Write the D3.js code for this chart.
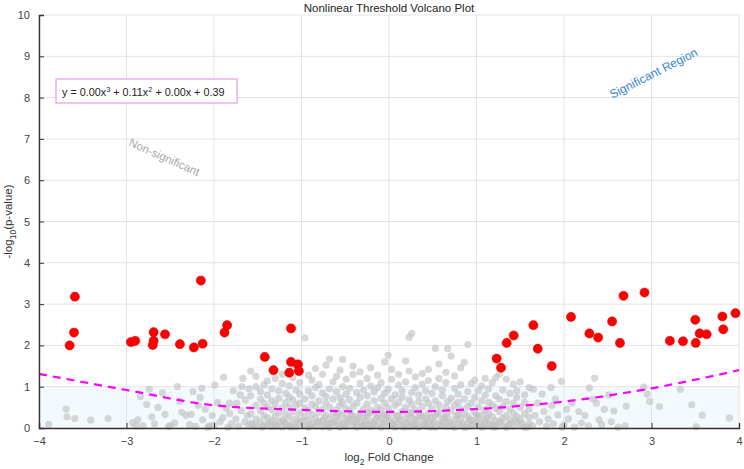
<!DOCTYPE html>
<html>
<head>
<meta charset="utf-8">
<script src="https://cdn.jsdelivr.net/npm/d3@7"></script>
<style>
  body { margin: 0; background: #fff; }
  svg { display: block; font-family: "Liberation Sans", Arial, sans-serif; }
</style>
</head>
<body>
<svg id="chart" width="744" height="469"></svg>
<script>
// Significant genes (red)
const sigPoints = [
  [-3.59, 3.18], [-3.60, 2.31], [-3.65, 2.00], [-2.95, 2.08], [-2.90, 2.11],
  [-2.69, 2.32], [-2.69, 2.11], [-2.70, 2.01], [-2.56, 2.27], [-2.39, 2.03],
  [-2.23, 1.95], [-2.15, 3.57], [-2.13, 2.04], [-1.88, 2.31], [-1.85, 2.49],
  [-1.12, 2.41], [-1.42, 1.72], [-1.32, 1.40], [-1.12, 1.60], [-1.04, 1.54],
  [-1.14, 1.34], [-1.03, 1.38],
  [1.23, 1.68], [1.28, 1.46], [1.345, 2.06], [1.425, 2.24], [1.65, 2.49],
  [1.70, 1.92], [1.86, 1.50], [2.08, 2.69], [2.29, 2.29], [2.39, 2.19],
  [2.55, 2.58], [2.64, 2.06], [2.68, 3.20], [2.92, 3.28], [3.21, 2.11],
  [3.36, 2.10], [3.50, 2.62], [3.505, 2.06], [3.55, 2.29], [3.63, 2.27],
  [3.81, 2.70], [3.82, 2.39], [3.96, 2.78]
];

// Non-significant genes (gray)
const grayLeft = [
  [-3.89, 0.09], [-3.69, 0.46], [-3.68, 0.27], [-3.59, 0.23], [-3.41, 0.19], [-3.21, 0.23],
  [-2.93, 0.13], [-2.89, 0.05], [-2.87, 0.2], [-2.84, 0.76], [-2.81, 0.05], [-2.77, 0.57],
  [-2.74, 0.94], [-2.71, 0.27], [-2.68, 0.1], [-2.64, 0.5], [-2.59, 0.85], [-2.56, 0.33],
  [-2.52, 0.04], [-2.5, 0.05], [-2.45, 0.12], [-2.42, 1.0], [-2.39, 0.65], [-2.37, 0.38],
  [-2.32, 0.31], [-2.28, 0.08], [-2.26, 0.33], [-2.24, 0.88], [-2.21, 0.04], [-2.18, 0.55],
  [-2.16, 0.74], [-2.14, 0.96], [-2.13, 0.2], [-2.1, 0.45], [-2.07, 0.02], [-2.05, 0.05],
  [-2.02, 0.3], [-2.0, 0.07], [-1.99, 1.04], [-1.96, 0.62], [-1.93, 0.15], [-1.9, 0.25],
  [-1.89, 1.23], [-1.86, 0.48], [-1.84, 0.02], [-1.82, 0.6], [-1.82, 0.35], [-1.8, 0.1],
  [-1.78, 0.9], [-1.75, 0.22], [-1.74, 0.6], [-1.72, 0.04], [-1.7, 0.8], [-1.69, 0.42],
  [-1.68, 1.0], [-1.67, 1.2], [-1.65, 0.15], [-1.64, 0.68], [-1.62, 0.3], [-1.6, 0.95],
  [-1.6, 0.05]
];

// dense middle, listed as [x, y1, y2, ...]
const grayCenterCols = [
  [-1.58, 0.12, 0.35, 0.78, 1.38], [-1.52, 0.04, 0.22, 0.55, 1.0, 1.25], [-1.47, 0.15, 0.42, 0.7, 0.88],
  [-1.43, 0.06, 0.3, 0.6, 1.05], [-1.39, 0.1, 0.25, 0.5, 1.14, 0.8], [-1.34, 0.03, 0.18, 0.44, 0.66, 0.95],
  [-1.3, 0.08, 0.28, 0.58, 1.2], [-1.26, 0.14, 0.37, 0.72, 0.9], [-1.22, 0.02, 0.2, 0.48, 1.08, 1.3],
  [-1.18, 0.1, 0.33, 0.62, 0.84], [-1.14, 0.05, 0.26, 0.5, 0.75, 1.02], [-1.1, 0.12, 0.4, 0.68, 1.22],
  [-1.06, 0.03, 0.22, 0.55, 0.92, 1.45], [-1.02, 0.16, 0.36, 0.6, 0.82, 1.1], [-0.96, 0.07, 0.28, 0.48, 0.7, 2.18],
  [-0.92, 0.02, 0.2, 0.42, 0.9, 1.28], [-0.88, 0.11, 0.33, 0.58, 0.78, 1.16], [-0.84, 0.05, 0.24, 0.52, 1.44, 0.98],
  [-0.8, 0.14, 0.38, 0.66, 1.05], [-0.76, 0.03, 0.18, 0.45, 0.85, 1.3], [-0.72, 0.09, 0.3, 0.6, 0.76, 1.52],
  [-0.68, 0.01, 0.22, 0.5, 0.95, 1.67], [-0.64, 0.13, 0.36, 0.7, 1.12], [-0.6, 0.06, 0.27, 0.44, 0.88, 1.25],
  [-0.56, 0.02, 0.18, 0.55, 0.73, 1.4], [-0.53, 0.1, 0.34, 0.62, 1.0, 1.66], [-0.49, 0.04, 0.24, 0.47, 0.82, 1.18],
  [-0.45, 0.15, 0.4, 0.68, 0.96], [-0.41, 0.07, 0.28, 0.52, 1.3, 1.5], [-0.37, 0.02, 0.2, 0.6, 0.86],
  [-0.33, 0.12, 0.35, 0.74, 1.08, 1.36], [-0.29, 0.05, 0.25, 0.46, 0.92], [-0.25, 0.09, 0.3, 0.58, 0.78, 1.2],
  [-0.21, 0.03, 0.17, 0.43, 1.02, 1.46], [-0.17, 0.11, 0.38, 0.66, 0.88], [-0.13, 0.06, 0.26, 0.5, 0.98, 1.28],
  [-0.09, 0.01, 0.2, 0.44, 0.72, 1.1], [-0.05, 0.14, 0.32, 0.6, 1.6, 0.84], [-0.01, 0.04, 0.23, 0.48, 0.94, 1.76],
  [0.03, 0.1, 0.36, 0.7, 1.18, 1.42], [0.07, 0.02, 0.19, 0.55, 0.8], [0.11, 0.13, 0.29, 0.62, 1.04, 1.3],
  [0.15, 0.05, 0.4, 0.74, 0.9], [0.19, 0.08, 0.24, 0.5, 1.62, 1.12], [0.23, 0.03, 0.33, 0.68, 1.38, 2.2],
  [0.26, 0.12, 0.27, 0.58, 0.86, 2.29], [0.3, 0.06, 0.21, 0.45, 0.98, 1.24], [0.34, 0.01, 0.37, 0.64, 0.8],
  [0.38, 0.1, 0.28, 0.52, 1.06, 1.32], [0.42, 0.04, 0.18, 0.7, 0.9], [0.45, 0.14, 0.35, 0.6, 1.42, 1.15],
  [0.49, 0.07, 0.25, 0.48, 0.84], [0.53, 0.02, 0.3, 0.66, 1.0, 1.93], [0.57, 0.11, 0.4, 0.56, 1.2, 1.55],
  [0.61, 0.05, 0.22, 0.78, 0.92], [0.65, 0.13, 0.34, 0.5, 1.1, 1.35], [0.67, 0.03, 0.26, 0.64, 1.92],
  [0.71, 0.09, 0.42, 0.72, 1.74], [0.75, 0.01, 0.2, 0.55, 0.96, 1.26], [0.79, 0.12, 0.31, 0.62, 0.82],
  [0.82, 0.06, 0.24, 0.46, 1.46, 1.05], [0.86, 0.02, 0.36, 0.7, 1.59], [0.9, 0.1, 0.28, 0.52, 0.88, 2.02],
  [0.94, 0.04, 0.18, 0.6, 1.08], [0.98, 0.14, 0.38, 0.74, 1.16], [1.02, 0.07, 0.25, 0.5, 0.9],
  [1.06, 0.02, 0.32, 0.66, 1.02], [1.1, 0.11, 0.2, 0.44, 0.8, 1.2], [1.14, 0.05, 0.35, 0.62, 0.95],
  [1.18, 0.09, 0.27, 0.56, 1.1], [1.22, 0.03, 0.18, 0.48, 0.78, 1.22], [1.26, 0.12, 0.4, 0.7, 1.3],
  [1.3, 0.06, 0.24, 0.52, 0.92], [1.34, 0.01, 0.3, 0.64, 1.18], [1.38, 0.1, 0.2, 0.46, 0.84],
  [1.42, 0.04, 0.36, 0.6, 1.06], [1.46, 0.13, 0.28, 0.74, 0.9], [1.5, 0.07, 0.22, 0.5, 1.12],
  [1.55, 0.02, 0.34, 0.62, 0.8], [1.6, 0.1, 0.26, 0.45, 0.98]
];

// extra low-lying points that fill the bottom of the cloud
const grayBase = [
  [-1.55, 0.08], [-1.45, 0.02], [-1.36, 0.12], [-1.28, 0.04], [-1.2, 0.15], [-1.12, 0.02],
  [-1.04, 0.1], [-0.98, 0.18], [-0.9, 0.06], [-0.82, 0.14], [-0.74, 0.24], [-0.7, 0.08],
  [-0.62, 0.16], [-0.58, 0.35], [-0.51, 0.05], [-0.47, 0.2], [-0.43, 0.32], [-0.39, 0.12],
  [-0.35, 0.26], [-0.31, 0.04], [-0.27, 0.17], [-0.23, 0.36], [-0.19, 0.08], [-0.15, 0.22],
  [-0.11, 0.34], [-0.07, 0.1], [-0.03, 0.28], [0.01, 0.16], [0.05, 0.06], [0.09, 0.3],
  [0.13, 0.2], [0.17, 0.02], [0.21, 0.14], [0.25, 0.38], [0.28, 0.04], [0.32, 0.18],
  [0.36, 0.3], [0.4, 0.08], [0.44, 0.24], [0.47, 0.02], [0.51, 0.15], [0.55, 0.34],
  [0.59, 0.06], [0.63, 0.25], [0.69, 0.14], [0.73, 0.04], [0.77, 0.3], [0.84, 0.12],
  [0.88, 0.02], [0.92, 0.22], [0.96, 0.08], [1.0, 0.3], [1.04, 0.14], [1.08, 0.04],
  [1.12, 0.24], [1.16, 0.1], [1.2, 0.02], [1.28, 0.16], [1.36, 0.06], [1.44, 0.2],
  [1.52, 0.12], [1.58, 0.02]
];

const grayRight = [
  [1.64, 0.05], [1.65, 0.94], [1.67, 0.3], [1.7, 0.6], [1.72, 0.15], [1.75, 0.82], [1.77, 0.4],
  [1.8, 0.04], [1.82, 0.22], [1.85, 0.98], [1.86, 0.55], [1.88, 0.1], [1.9, 0.7], [1.93, 0.32],
  [1.97, 1.13], [1.98, 0.02], [2.0, 0.08], [2.03, 0.45], [2.05, 0.22], [2.09, 0.6], [2.12, 0.02],
  [2.17, 0.4], [2.2, 0.12], [2.24, 0.3], [2.28, 0.05], [2.29, 0.97], [2.33, 0.7], [2.35, 1.21],
  [2.37, 0.6], [2.4, 0.2], [2.43, 0.08], [2.46, 0.45], [2.51, 0.8], [2.54, 0.15], [2.57, 0.41],
  [2.62, 0.02], [2.7, 0.05], [2.71, 0.53], [2.91, 0.99], [2.95, 0.82], [2.98, 0.64], [3.09, 0.52],
  [3.33, 0.94], [3.46, 0.56], [3.51, 0.03], [3.58, 0.31], [3.89, 0.24]
];

// dashed threshold curve, read at each integer x
const curveX = [-4, -3, -2, -1, 0, 1, 2, 3, 4];
const curveY = [1.31, 0.92, 0.55, 0.44, 0.39, 0.46, 0.64, 0.96, 1.40];

const xTicks = [-4, -3, -2, -1, 0, 1, 2, 3, 4];
const yTicks = [0, 1, 2, 3, 4, 5, 6, 7, 8, 9, 10];

const svg = d3.select("#chart");
const margin = { top: 15, right: 5, bottom: 41, left: 39 };
const width = +svg.attr("width");
const height = +svg.attr("height");

const x = d3.scaleLinear().domain([-4, 4]).range([margin.left, width - margin.right]);
const y = d3.scaleLinear().domain([0, 10]).range([height - margin.bottom, margin.top]);

// pale band under y = 1
svg.append("rect")
  .attr("x", x(-4)).attr("y", y(1))
  .attr("width", x(4) - x(-4)).attr("height", y(0) - y(1))
  .attr("fill", "#f3fafe");

// grid
svg.append("g").selectAll("line").data(xTicks).join("line")
  .attr("x1", d => x(d)).attr("x2", d => x(d))
  .attr("y1", y(0)).attr("y2", y(10))
  .attr("stroke", "#e3e3e3");
svg.append("g").selectAll("line").data(yTicks).join("line")
  .attr("x1", x(-4)).attr("x2", x(4))
  .attr("y1", d => y(d)).attr("y2", d => y(d))
  .attr("stroke", "#e3e3e3");

// gray points
const grayPoints = grayLeft.concat(
  grayCenterCols.flatMap(c => c.slice(1).map(v => [c[0], v])),
  grayBase,
  grayRight
);
svg.append("g").selectAll("circle").data(grayPoints).join("circle")
  .attr("cx", d => x(d[0])).attr("cy", d => y(d[1]))
  .attr("r", 3.6)
  .attr("fill", "#c2c2c2")
  .attr("fill-opacity", 0.65);

// threshold curve
const line = d3.line().x(d => x(d[0])).y(d => y(d[1])).curve(d3.curveMonotoneX);
svg.append("path")
  .datum(curveX.map((v, i) => [v, curveY[i]]))
  .attr("d", line)
  .attr("fill", "none")
  .attr("stroke", "#ff00ff")
  .attr("stroke-width", 2.2)
  .attr("stroke-dasharray", "8,6");

// red points
svg.append("g").selectAll("circle").data(sigPoints).join("circle")
  .attr("cx", d => x(d[0])).attr("cy", d => y(d[1]))
  .attr("r", 4.6)
  .attr("fill", "#ff0000")
  .attr("stroke", "#d00000")
  .attr("stroke-width", 0.5);

// axes
const xAxis = svg.append("g")
  .attr("transform", `translate(0,${y(0)})`)
  .call(d3.axisBottom(x).tickValues(xTicks).tickSize(-5).tickPadding(9));
const yAxis = svg.append("g")
  .attr("transform", `translate(${x(-4)},0)`)
  .call(d3.axisLeft(y).tickValues(yTicks).tickSize(-5).tickPadding(9));
[xAxis, yAxis].forEach(g => {
  g.select(".domain").attr("stroke", "#333").attr("stroke-width", 1.4);
  g.selectAll(".tick line").attr("stroke", "#333");
  g.selectAll(".tick text").attr("fill", "#444").attr("font-size", 11)
    .attr("font-family", "Liberation Sans, Arial, sans-serif");
});

// title and axis labels
svg.append("text")
  .attr("x", 389).attr("y", 12)
  .attr("text-anchor", "middle").attr("font-size", 11.5).attr("fill", "#222")
  .text("Nonlinear Threshold Volcano Plot");

const xl = svg.append("text")
  .attr("x", 389).attr("y", 461)
  .attr("text-anchor", "middle").attr("font-size", 11.5).attr("fill", "#333");
xl.append("tspan").text("log");
xl.append("tspan").attr("font-size", 8.5).attr("dy", 4).text("2");
xl.append("tspan").attr("dy", -4).text(" Fold Change");

const yl = svg.append("text")
  .attr("transform", `translate(12,${y(5)}) rotate(-90)`)
  .attr("text-anchor", "middle").attr("font-size", 11.5).attr("fill", "#333");
yl.append("tspan").text("-log");
yl.append("tspan").attr("font-size", 8.5).attr("dy", 4).text("10");
yl.append("tspan").attr("dy", -4).text("(p-value)");

// equation box
svg.append("rect")
  .attr("x", 56).attr("y", 79).attr("width", 181).attr("height", 24)
  .attr("fill", "#fff").attr("stroke", "#e79ae9").attr("stroke-width", 1.2);
const eq = svg.append("text")
  .attr("x", 62).attr("y", 96)
  .attr("font-size", 10.8).attr("fill", "#222");
eq.append("tspan").text("y = 0.00x");
eq.append("tspan").attr("font-size", 7.5).attr("dy", -4).text("3");
eq.append("tspan").attr("dy", 4).text(" + 0.11x");
eq.append("tspan").attr("font-size", 7.5).attr("dy", -4).text("2");
eq.append("tspan").attr("dy", 4).text(" + 0.00x + 0.39");

// region annotations
svg.append("text")
  .attr("transform", "translate(164,158) rotate(24)")
  .attr("text-anchor", "middle").attr("dominant-baseline", "middle")
  .attr("font-size", 11.5).attr("fill", "#a8a8a8")
  .text("Non-significant");
svg.append("text")
  .attr("transform", "translate(654,74) rotate(-27)")
  .attr("text-anchor", "middle").attr("dominant-baseline", "middle")
  .attr("font-size", 12).attr("fill", "#3b82d0")
  .text("Significant Region");
</script>
</body>
</html>
